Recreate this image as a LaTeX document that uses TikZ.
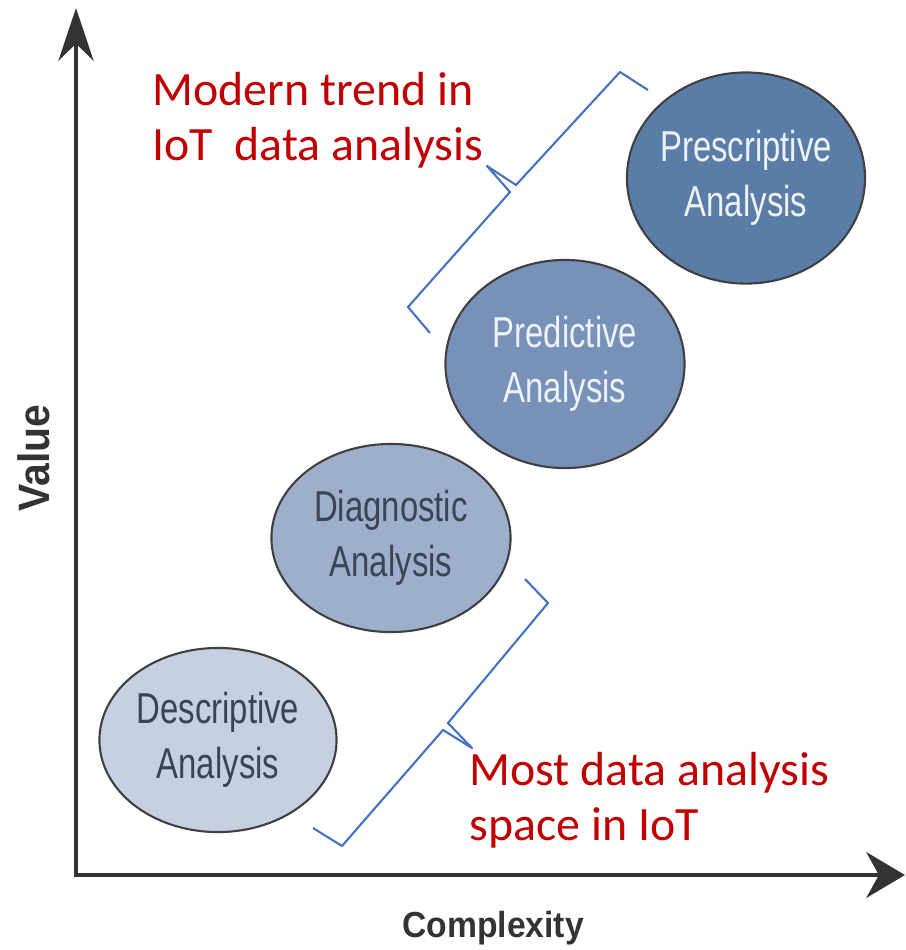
\documentclass[tikz,border=0pt]{standalone}
\usepackage{fontspec}
\usetikzlibrary{arrows.meta,shapes.geometric}

\newfontfamily\stagefont[FakeStretch=0.76]{Liberation Sans}
\newfontfamily\axisfont[FakeStretch=0.93]{Liberation Sans}
\newfontfamily\notefont{Carlito}

\definecolor{descfill}{HTML}{C7D0E1}
\definecolor{diagfill}{HTML}{9EAFCB}
\definecolor{predfill}{HTML}{7891B9}
\definecolor{prescfill}{HTML}{5A7DA8}
\definecolor{darktext}{HTML}{3B4453}
\definecolor{lighttext}{HTML}{EEF2F7}
\definecolor{notered}{HTML}{C00000}
\definecolor{braceblue}{HTML}{4472C4}

\tikzset{
  stage/.style={ellipse,draw=black!75,line width=0.6pt,inner sep=0pt,inner xsep=-4pt,
    align=center,font=\stagefont\fontsize{12.3}{15.6}\selectfont},
  axis/.style={line width=1.1pt,draw=black!80},
  note/.style={anchor=base west,inner sep=0pt,align=left,text=notered,
    font=\notefont\fontsize{13.6}{15.6}\selectfont},
  bracket/.style={draw=braceblue,line width=0.6pt,line join=round}
}

\begin{document}
\begin{tikzpicture}[x=0.01cm,y=-0.01cm]
      \useasboundingbox (0,0) rectangle (906,950);

      \coordinate (origin) at (76,875);
      \coordinate (ytip) at (76,8);
      \coordinate (xtip) at (905,875);
      \draw[axis,{Stealth[length=15pt,width=10pt]}-{Stealth[length=11pt,width=13pt]}] (ytip) -- (origin) -- (xtip);

      \node[rotate=90,text=black!80,font=\axisfont\bfseries\fontsize{12.5}{14}\selectfont] (valuelbl) at (34,458) {Value};
      \node[text=black!80,font=\axisfont\bfseries\fontsize{10.3}{12}\selectfont] (complexlbl) at (493,928) {Complexity};

      \node[stage,fill=descfill,text=darktext,minimum width=2.37cm,minimum height=1.84cm] (desc) at (218,740) {Descriptive\\Analysis};
      \node[stage,fill=diagfill,text=darktext,minimum width=2.39cm,minimum height=1.88cm] (diag) at (391,538) {Diagnostic\\Analysis};
      \node[stage,fill=predfill,text=lighttext,minimum width=2.39cm,minimum height=2.08cm] (pred) at (565,364) {Predictive\\Analysis};
      \node[stage,fill=prescfill,text=lighttext,minimum width=2.38cm,minimum height=2.11cm] (presc) at (746,178) {Prescriptive\\Analysis};

      \draw[bracket] (430,333) -- (408,307) -- (510,192) -- (487,166) -- (516,185) -- (620,72) -- (648,90);
      \draw[bracket] (525,579) -- (548,603) -- (448,723) -- (472,748) -- (443,730) -- (342,846) -- (313,828);

      \node[note] (trendnote) at (152,160) {Modern trend in\\IoT\ \ data analysis};
      \node[note] (mostnote) at (469,840) {Most data analysis\\space in IoT};
    \end{tikzpicture}
\end{document}
